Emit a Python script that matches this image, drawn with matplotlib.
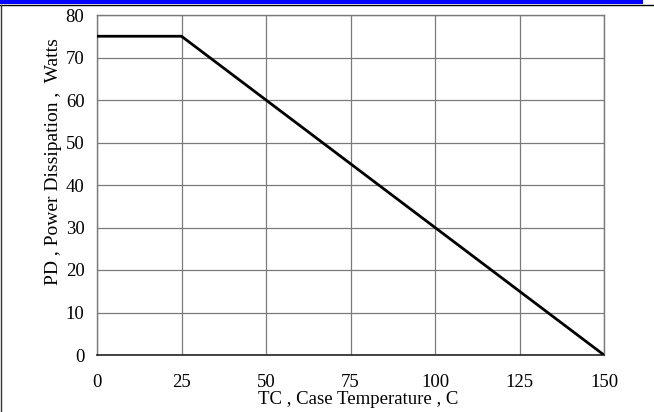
import matplotlib
matplotlib.use("Agg")
import matplotlib.pyplot as plt
from matplotlib.patches import Rectangle
from matplotlib.lines import Line2D

# Data
temp_c = [0, 25, 150]
power_w = [75, 75, 0]
x_ticks = [0, 25, 50, 75, 100, 125, 150]
y_ticks = [0, 10, 20, 30, 40, 50, 60, 70, 80]
x_label = "TC , Case Temperature , C"
y_label = "PD , Power Dissipation ,  Watts"

plt.rcParams['font.family'] = ['Liberation Serif', 'DejaVu Serif']

W, H = 654, 412
fig = plt.figure(figsize=(W / 100, H / 100), dpi=100)
ax = fig.add_axes([97 / W, 57 / H, 507 / W, 340 / H])

ax.plot(temp_c, power_w, color='black', lw=2.0, solid_capstyle='butt', zorder=3)
ax.set_xlim(0, 150)
ax.set_ylim(0, 80)
ax.set_xticks(x_ticks)
ax.set_yticks(y_ticks)
ax.grid(True, color='#7a7a7a', lw=0.9)
ax.tick_params(length=0, labelsize=13.5)
ax.tick_params(axis='x', pad=14)
ax.tick_params(axis='y', pad=9)
for s in ['left', 'top', 'right']:
    ax.spines[s].set_color('#7a7a7a')
    ax.spines[s].set_linewidth(1.0)
ax.spines['bottom'].set_color('#222222')
ax.spines['bottom'].set_linewidth(1.2)

ax.set_xlabel(x_label, fontsize=13.5)
ax.set_ylabel(y_label, fontsize=14)
ax.xaxis.set_label_coords(0.515, -0.13, transform=ax.transAxes)
ax.yaxis.set_label_coords(-0.086, 0.57, transform=ax.transAxes)
ax.xaxis.label.set_va('center')
ax.yaxis.label.set_va('center')

# Page decorations
fig.add_artist(Rectangle((0, 1 - 3.5 / H), 643 / W, 3.5 / H, transform=fig.transFigure,
                         facecolor='#0000ff', edgecolor='none'))
fig.add_artist(Line2D([0, 1], [1 - 4.5 / H, 1 - 4.5 / H], transform=fig.transFigure,
                      color='black', lw=1.0))
fig.add_artist(Line2D([1.2 / W, 1.2 / W], [0, 1 - 4.5 / H], transform=fig.transFigure,
                      color='#333333', lw=1.0))

fig.savefig("out.png", dpi=100)
